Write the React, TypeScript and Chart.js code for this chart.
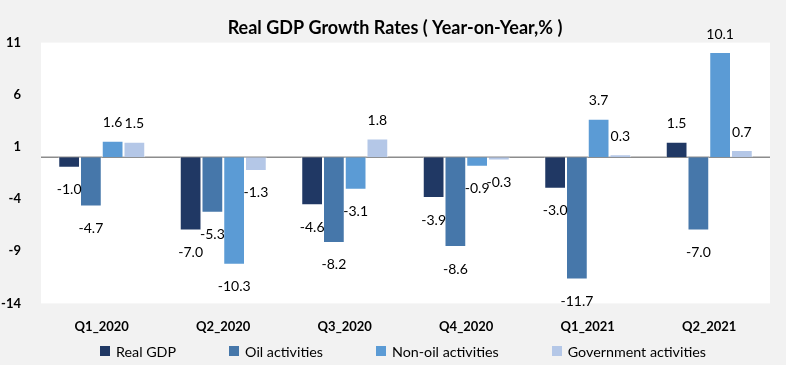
import React, { useEffect, useRef } from "react";
import { Chart, registerables } from "chart.js";

Chart.register(...registerables);

const categories = ["Q1_2020", "Q2_2020", "Q3_2020", "Q4_2020", "Q1_2021", "Q2_2021"];
const realGdp = [-1.0, -7.0, -4.6, -3.9, -3.0, 1.5];
const oilActivities = [-4.7, -5.3, -8.2, -8.6, -11.7, -7.0];
const nonOilActivities = [1.6, -10.3, -3.1, -0.9, 3.7, 10.1];
const governmentActivities = [1.5, -1.3, 1.8, -0.3, 0.3, 0.7];
const seriesNames = ["Real GDP", "Oil activities", "Non-oil activities", "Government activities"];
const seriesColors = ["#203864", "#4677AA", "#5B9BD5", "#B4C7E7"];
const yTicks = [11, 6, 1, -4, -9, -14];
const chartTitle = "Real GDP Growth Rates ( Year-on-Year,% )";

const FONT = "Lato, 'Noto Sans', sans-serif";

const backgroundPlugin = {
  id: "bgPlugin",
  beforeDraw(chart: any) {
    const { ctx, chartArea } = chart;
    ctx.save();
    ctx.fillStyle = "#F2F2F2";
    ctx.fillRect(0, 0, chart.width, chart.height);
    ctx.fillStyle = "#FFFFFF";
    ctx.fillRect(chartArea.left, chartArea.top, chartArea.right - chartArea.left, chartArea.bottom - chartArea.top);
    ctx.restore();
  },
  beforeDatasetsDraw(chart: any) {
    const { ctx, chartArea, scales } = chart;
    const y0 = scales.y.getPixelForValue(0);
    ctx.save();
    ctx.strokeStyle = "#8C8C8C";
    ctx.lineWidth = 1.5;
    ctx.beginPath();
    ctx.moveTo(chartArea.left, y0);
    ctx.lineTo(chartArea.right, y0);
    ctx.stroke();
    ctx.restore();
  },
};

const titleShiftPlugin = {
  id: "titleShift",
  afterLayout(chart: any) {
    const t = chart.titleBlock;
    if (t) {
      t.left += 10;
      t.right += 10;
    }
  },
};

const valueLabelPlugin = {
  id: "valueLabels",
  afterDatasetsDraw(chart: any) {
    const { ctx } = chart;
    ctx.save();
    ctx.font = `normal 14px ${FONT}`;
    ctx.fillStyle = "#000000";
    ctx.textAlign = "center";
    ctx.textBaseline = "middle";
    chart.data.datasets.forEach((ds: any, i: number) => {
      const meta = chart.getDatasetMeta(i);
      meta.data.forEach((el: any, j: number) => {
        const v = ds.data[j];
        const y = v >= 0 ? el.y - 18 : el.y + 22;
        ctx.fillText(v.toFixed(1), el.x, y);
      });
    });
    ctx.restore();
  },
};

export default function App() {
  const ref = useRef<HTMLCanvasElement>(null);
  useEffect(() => {
    document.body.style.margin = "0";
    const values = [realGdp, oilActivities, nonOilActivities, governmentActivities];
    const chart = new Chart(ref.current as HTMLCanvasElement, {
      type: "bar",
      data: {
        labels: categories,
        datasets: values.map((d, i) => ({
          label: seriesNames[i],
          data: d,
          backgroundColor: seriesColors[i],
          borderColor: "rgba(255,255,255,0.7)",
          borderWidth: 1,
          categoryPercentage: 0.716,
          barPercentage: 1,
        })),
      },
      options: {
        responsive: false,
        animation: false,
        devicePixelRatio: 1,
        layout: { padding: { left: 0, right: 16, top: 0, bottom: 14 } },
        plugins: {
          legend: { display: false },
          tooltip: { enabled: false },
          title: {
            display: true,
            text: chartTitle,
            color: "#000000",
            font: { family: FONT, size: 18, weight: "bold" },
            padding: { top: 17, bottom: 4 },
          },
        },
        scales: {
          x: {
            grid: { display: false, drawTicks: false },
            border: { display: false },
            ticks: {
              color: "#000000",
              font: { family: FONT, size: 13, weight: "bold" },
              padding: 16,
              maxRotation: 0,
            },
          },
          y: {
            min: -14,
            max: 11,
            afterBuildTicks: (s: any) => {
              s.ticks = yTicks.map((v) => ({ value: v }));
            },
            afterFit: (s: any) => {
              s.width = 41;
            },
            grid: { display: false, drawTicks: false },
            border: { display: false },
            ticks: {
              color: "#000000",
              font: { family: FONT, size: 13, weight: "bold" },
              padding: 20,
            },
          },
        },
      } as any,
      plugins: [backgroundPlugin, titleShiftPlugin, valueLabelPlugin],
    });
    return () => chart.destroy();
  }, []);

  return (
    <div style={{ position: "relative", width: 786, height: 365, background: "#F2F2F2" }}>
      <canvas ref={ref} width={786} height={365} style={{ display: "block" }} />
      <div
        style={{
          position: "absolute",
          left: 100,
          top: 341,
          height: 20,
          display: "flex",
          alignItems: "center",
          gap: 53,
          fontFamily: FONT,
          fontSize: 14.3,
          color: "#000000",
          whiteSpace: "nowrap",
        }}
      >
        {seriesNames.map((name, i) => (
          <div key={name} style={{ display: "flex", alignItems: "center" }}>
            <span style={{ display: "inline-block", width: 10, height: 10, background: seriesColors[i], marginRight: 6 }} />
            <span>{name}</span>
          </div>
        ))}
      </div>
    </div>
  );
}
